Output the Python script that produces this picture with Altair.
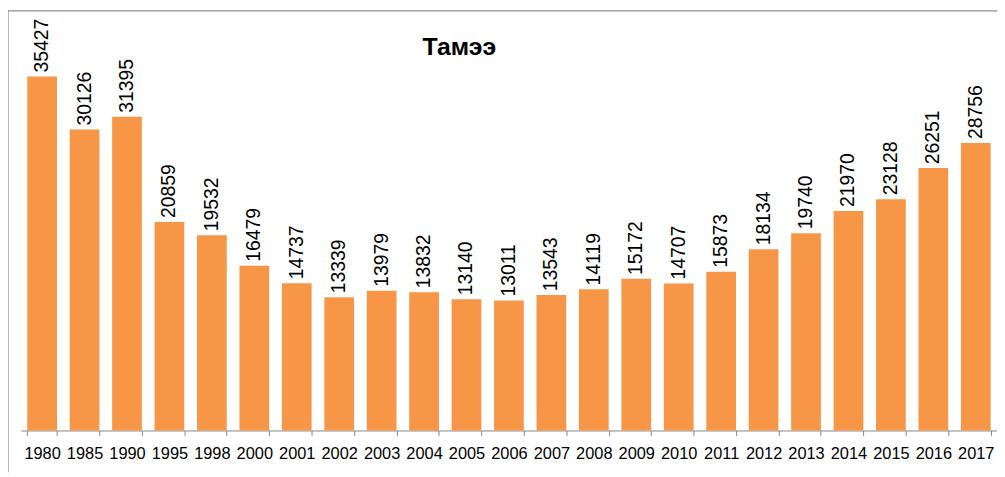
import altair as alt
import pandas as pd

years = ["1980", "1985", "1990", "1995", "1998", "2000", "2001", "2002", "2003", "2004",
         "2005", "2006", "2007", "2008", "2009", "2010", "2011", "2012", "2013", "2014",
         "2015", "2016", "2017"]
values = [35427, 30126, 31395, 20859, 19532, 16479, 14737, 13339, 13979, 13832,
          13140, 13011, 13543, 14119, 15172, 14707, 15873, 18134, 19740, 21970,
          23128, 26251, 28756]

df = pd.DataFrame({"year": years, "value": values})

x = alt.X("year:N", sort=years, title=None,
          scale=alt.Scale(paddingInner=0.3, paddingOuter=0.15),
          axis=alt.Axis(labelAngle=0, tickBand="extent", domainColor="#868686",
                        tickColor="#868686", tickSize=5, labelFontSize=16.5,
                        labelFont="Liberation Sans", labelColor="#000000",
                        labelPadding=10, grid=False))
y = alt.Y("value:Q", scale=alt.Scale(domain=[0, 40000]), axis=None)

base = alt.Chart(df).encode(x=x, y=y)

bars = base.mark_bar(color="#F79646")
labels = base.mark_text(angle=270, align="left", baseline="middle", dx=4,
                        fontSize=19.5, font="Liberation Sans", color="#000000").encode(
    text="value:Q")

frame = alt.Chart(pd.DataFrame({"a": [0]})).mark_rule(color="#8c8c8c", strokeWidth=1.2).encode(
    x=alt.value(-13), y=alt.value(-20), y2=alt.value(445))
frame_top = alt.Chart(pd.DataFrame({"a": [0]})).mark_rule(color="#8c8c8c", strokeWidth=1.2).encode(
    x=alt.value(-13), x2=alt.value(990), y=alt.value(-20))

chart = alt.layer(frame, frame_top, bars, labels).properties(
    width=984, height=403,
    autosize=alt.AutoSizeParams(type="none"),
    padding={"left": 13, "top": 21, "right": 0, "bottom": 44},
    title=alt.TitleParams(text="Тамээ", anchor="middle", dx=-50, dy=54,
                          fontSize=25, font="Liberation Sans", fontWeight="bold",
                          color="#000000"),
).configure_view(stroke=None)

chart.save("out.html", embed_options={"renderer": "svg", "actions": False})
